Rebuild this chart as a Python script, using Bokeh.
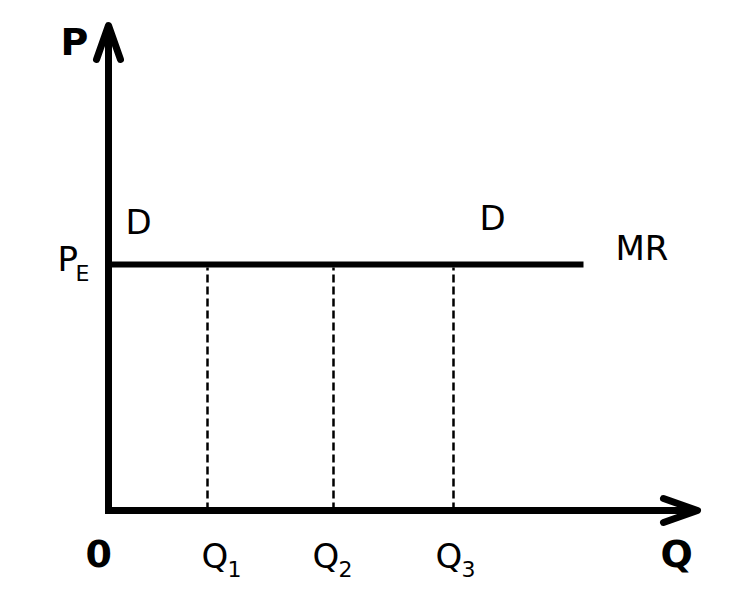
from bokeh.plotting import figure
from bokeh.models import Range1d, Label
from bokeh.embed import file_html
from bokeh.resources import INLINE

# ---- data (arbitrary quantity / price units) ----
q_axis_max = 589          # end of the Q axis
p_axis_max = 485          # end of the P axis
price_pe = 246            # market price PE (perfectly elastic demand = MR)
mr_end = 475              # where the D = MR line stops
q_values = [99, 225, 345] # Q1, Q2, Q3
q_labels = ["Q", "Q", "Q"]
q_subs = ["1", "2", "3"]

FONT = "DejaVu Sans"

p = figure(width=721, height=587, title=None, toolbar_location=None,
           output_backend="svg", min_border=0,
           x_range=Range1d(-108, 613), y_range=Range1d(-77, 510))
p.axis.visible = False
p.grid.visible = False
p.outline_line_color = None
p.background_fill_color = "white"
p.border_fill_color = "white"

# axes
p.line([0, 0], [-3.5, p_axis_max], line_width=7, color="black")
p.line([-3.5, q_axis_max], [0, 0], line_width=7, color="black")

# arrow heads (open V heads)
hl, hw = 34, 12
p.multi_line(
    xs=[[-hw, 0, hw], [q_axis_max - hl, q_axis_max, q_axis_max - hl]],
    ys=[[p_axis_max - hl, p_axis_max, p_axis_max - hl], [hw, 0, -hw]],
    line_width=7, color="black", line_join="round", line_cap="round")

# D = MR line at PE
p.line([0, mr_end], [price_pe, price_pe], line_width=6, color="black")

# dashed quantity lines
p.segment(x0=q_values, y0=[0] * len(q_values), x1=q_values,
          y1=[price_pe - 3] * len(q_values), line_width=2.5, color="black",
          line_dash="8 4")

def label(x, y, t, size, bold=False):
    # small vertical correction for how the svg baseline renders
    p.add_layout(Label(x=x, y=y + 0.44 * size, text=t, text_font=FONT,
                       text_font_size=f"{size}px",
                       text_font_style="bold" if bold else "normal",
                       text_align="left", text_baseline="alphabetic",
                       text_color="black"))

# axis titles and origin
label(-48, p_axis_max - 33, "P", 38, bold=True)
label(q_axis_max - 37, -60, "Q", 38, bold=True)
label(-23, -60, "0", 38, bold=True)

# PE label
label(-51, price_pe - 9, "P", 34)
label(-33, price_pe - 19, "E", 22)

# D and MR labels
label(17, price_pe + 28, "D", 34)
label(371, price_pe + 32, "D", 34)
label(mr_end + 32, price_pe + 2, "MR", 34)

# quantity labels
q_label_dx = [-6, -21, -18]
for q, t, s, dx in zip(q_values, q_labels, q_subs, q_label_dx):
    label(q + dx, -60, t, 34)
    label(q + dx + 26, -68, s, 22)

open("out.html", "w").write(file_html(p, INLINE))
